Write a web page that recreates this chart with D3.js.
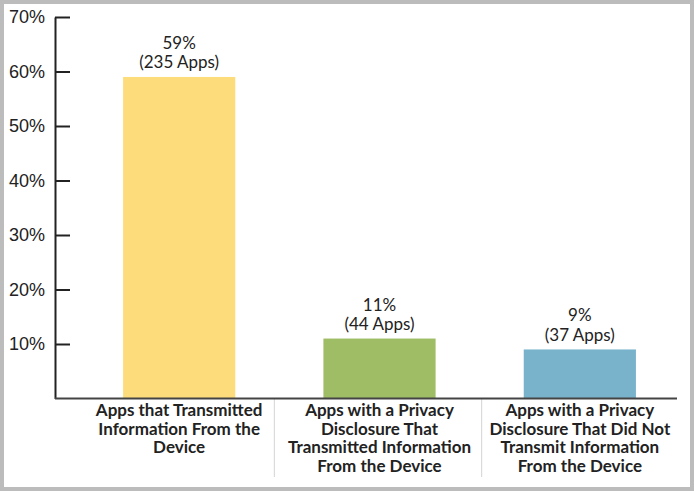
<!DOCTYPE html>
<html>
<head>
<meta charset="utf-8">
<script src="https://cdn.jsdelivr.net/npm/d3@7"></script>
<style>
  body { margin: 0; background: #fff; }
  svg { display: block; font-family: Lato, "Open Sans", sans-serif; }
  .axis text { font-size: 18px; fill: #222; }
  .axis path, .axis line { stroke: #222; stroke-width: 2px; }
  .vlabel { font-size: 17px; fill: #222; }
  .clabel { font-size: 17px; font-weight: bold; fill: #222; }
</style>
</head>
<body>
<div id="chart"></div>
<script>
var categories = [
  ["Apps that Transmitted", "Information From the", "Device"],
  ["Apps with a Privacy", "Disclosure That", "Transmitted Information", "From the Device"],
  ["Apps with a Privacy", "Disclosure That Did Not", "Transmit Information", "From the Device"]
];
var percents = [59, 11, 9];
var appCounts = [235, 44, 37];
var barColors = ["#fddd7b", "#9ebd65", "#78b3cb"];
var tickValues = [10, 20, 30, 40, 50, 60, 70];

var width = 694, height = 491;

var svg = d3.select("#chart").append("svg")
  .attr("width", width)
  .attr("height", height);

// grey frame round the picture
svg.append("rect")
  .attr("x", 2).attr("y", 2)
  .attr("width", width - 4).attr("height", height - 4)
  .attr("fill", "#fff")
  .attr("stroke", "#bcbcbc")
  .attr("stroke-width", 4);

var x = d3.scaleBand()
  .domain(d3.range(categories.length))
  .range([79, 680])
  .paddingInner(0.44)
  .paddingOuter(0.22);

var y = d3.scaleLinear()
  .domain([0, 70])
  .range([398.5, 17]);

var g = svg.append("g");

g.selectAll(".bar")
  .data(percents)
  .enter().append("rect")
  .attr("class", "bar")
  .attr("x", function(d, i) { return x(i); })
  .attr("width", x.bandwidth())
  .attr("y", function(d) { return y(d); })
  .attr("height", function(d) { return y(0) - y(d); })
  .attr("fill", function(d, i) { return barColors[i]; });

// separators below the base line, between the bars
var sepShift = [-5, 2];
var seps = d3.range(1, categories.length).map(function(i) {
  return (x(i - 1) + x.bandwidth() + x(i)) / 2 + sepShift[i - 1];
});
g.selectAll(".sep")
  .data(seps)
  .enter().append("line")
  .attr("x1", function(d) { return d; })
  .attr("x2", function(d) { return d; })
  .attr("y1", y(0))
  .attr("y2", 477)
  .attr("stroke", "#d4d4d4")
  .attr("stroke-width", 1);

g.append("g")
  .attr("class", "axis")
  .attr("transform", "translate(55,0)")
  .call(d3.axisLeft(y)
    .tickValues(tickValues)
    .tickFormat(function(d) { return d + "%"; })
    .tickSizeInner(-15)
    .tickSizeOuter(0)
    .tickPadding(10));

g.append("line")
  .attr("x1", 55).attr("x2", 677)
  .attr("y1", y(0)).attr("y2", y(0))
  .attr("stroke", "#444")
  .attr("stroke-width", 2);

// value labels
var vl = g.selectAll(".vlabel")
  .data(percents)
  .enter().append("text")
  .attr("class", "vlabel")
  .attr("text-anchor", "middle")
  .attr("x", function(d, i) { return x(i) + x.bandwidth() / 2; })
  .attr("y", function(d) { return y(d) - 28; });
vl.append("tspan")
  .text(function(d) { return d + "%"; });
vl.append("tspan")
  .attr("x", function(d, i) { return x(i) + x.bandwidth() / 2; })
  .attr("dy", 19.5)
  .text(function(d, i) { return "(" + appCounts[i] + " Apps)"; });

// category labels
var cl = g.selectAll(".clabel")
  .data(categories)
  .enter().append("text")
  .attr("class", "clabel")
  .attr("text-anchor", "middle")
  .attr("y", 416);
cl.selectAll("tspan")
  .data(function(d, i) { return d.map(function(t) { return { t: t, i: i }; }); })
  .enter().append("tspan")
  .attr("x", function(d) { return x(d.i) + x.bandwidth() / 2; })
  .attr("dy", function(d, j) { return j === 0 ? 0 : 18.5; })
  .text(function(d) { return d.t; });
</script>
</body>
</html>
